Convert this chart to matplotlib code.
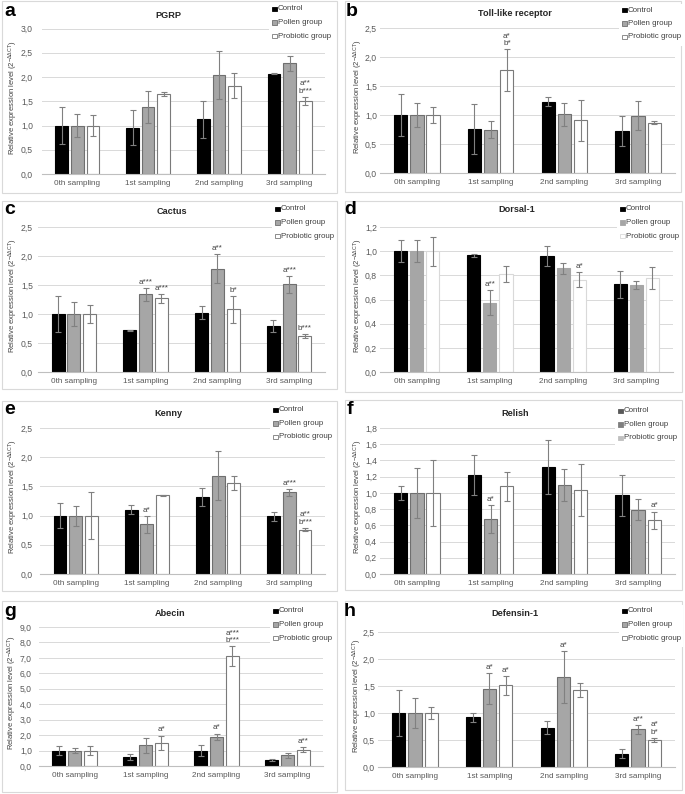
import matplotlib
matplotlib.use("Agg")
import matplotlib.pyplot as plt
from matplotlib.patches import Rectangle
from matplotlib.ticker import FuncFormatter, MultipleLocator
import numpy as np

# ---------------- data ----------------
categories = ["0th sampling", "1st sampling", "2nd sampling", "3rd sampling"]
groups = ["Control", "Pollen group", "Probiotic group"]
letters = ["a", "b", "c", "d", "e", "f", "g", "h"]
titles = ["PGRP", "Toll-like receptor", "Cactus", "Dorsal-1",
          "Kenny", "Relish", "Abecin", "Defensin-1"]

pgrp_control = [1.00, 0.95, 1.13, 2.07]
pgrp_control_sd = [0.39, 0.36, 0.38, 0.01]
pgrp_pollen = [1.00, 1.39, 2.04, 2.28]
pgrp_pollen_sd = [0.24, 0.33, 0.50, 0.15]
pgrp_probiotic = [1.00, 1.65, 1.82, 1.51]
pgrp_probiotic_sd = [0.22, 0.04, 0.26, 0.08]
pgrp_marks = [(3, 2, "a**\nb***")]

toll_control = [1.00, 0.76, 1.23, 0.73]
toll_control_sd = [0.37, 0.43, 0.08, 0.26]
toll_pollen = [1.00, 0.75, 1.01, 0.99]
toll_pollen_sd = [0.20, 0.15, 0.20, 0.25]
toll_probiotic = [1.00, 1.77, 0.91, 0.87]
toll_probiotic_sd = [0.13, 0.36, 0.35, 0.02]
toll_marks = [(1, 2, "a*\nb*")]

cactus_control = [1.00, 0.72, 1.02, 0.79]
cactus_control_sd = [0.31, 0.01, 0.11, 0.10]
cactus_pollen = [1.00, 1.34, 1.78, 1.51]
cactus_pollen_sd = [0.20, 0.11, 0.25, 0.15]
cactus_probiotic = [1.00, 1.27, 1.08, 0.62]
cactus_probiotic_sd = [0.16, 0.08, 0.23, 0.04]
cactus_marks = [(1, 1, "a***"), (1, 2, "a***"), (2, 1, "a**"),
                (2, 2, "b*"), (3, 1, "a***"), (3, 2, "b***")]

dorsal_control = [1.00, 0.965, 0.96, 0.725]
dorsal_control_sd = [0.09, 0.015, 0.08, 0.115]
dorsal_pollen = [1.00, 0.575, 0.86, 0.72]
dorsal_pollen_sd = [0.09, 0.10, 0.045, 0.035]
dorsal_probiotic = [1.00, 0.81, 0.765, 0.78]
dorsal_probiotic_sd = [0.12, 0.065, 0.06, 0.09]
dorsal_marks = [(1, 1, "a**"), (2, 2, "a*")]

kenny_control = [1.00, 1.10, 1.32, 0.99]
kenny_control_sd = [0.22, 0.08, 0.15, 0.08]
kenny_pollen = [1.00, 0.85, 1.68, 1.40]
kenny_pollen_sd = [0.17, 0.14, 0.42, 0.06]
kenny_probiotic = [1.00, 1.35, 1.55, 0.76]
kenny_probiotic_sd = [0.40, 0.01, 0.12, 0.03]
kenny_marks = [(1, 1, "a*"), (3, 1, "a***"), (3, 2, "a**\nb***")]

relish_control = [1.00, 1.22, 1.32, 0.97]
relish_control_sd = [0.09, 0.25, 0.33, 0.25]
relish_pollen = [1.00, 0.68, 1.10, 0.79]
relish_pollen_sd = [0.31, 0.17, 0.20, 0.13]
relish_probiotic = [1.00, 1.08, 1.04, 0.66]
relish_probiotic_sd = [0.41, 0.18, 0.32, 0.11]
relish_marks = [(1, 1, "a*"), (3, 2, "a*")]

abecin_control = [1.00, 0.60, 1.00, 0.40]
abecin_control_sd = [0.30, 0.20, 0.37, 0.05]
abecin_pollen = [1.00, 1.33, 1.90, 0.70]
abecin_pollen_sd = [0.15, 0.50, 0.20, 0.15]
abecin_probiotic = [1.00, 1.50, 7.10, 1.05]
abecin_probiotic_sd = [0.30, 0.47, 0.65, 0.15]
abecin_marks = [(1, 2, "a*"), (2, 1, "a*"), (2, 2, "a***\nb***"), (3, 2, "a**")]

defensin_control = [1.00, 0.92, 0.73, 0.25]
defensin_control_sd = [0.42, 0.08, 0.12, 0.09]
defensin_pollen = [1.00, 1.45, 1.67, 0.70]
defensin_pollen_sd = [0.28, 0.29, 0.48, 0.08]
defensin_probiotic = [1.00, 1.51, 1.42, 0.50]
defensin_probiotic_sd = [0.11, 0.18, 0.13, 0.04]
defensin_marks = [(1, 1, "a*"), (1, 2, "a*"), (2, 1, "a*"), (3, 1, "a**"), (3, 2, "a*\nb*")]

panel_means = [
    (pgrp_control, pgrp_pollen, pgrp_probiotic),
    (toll_control, toll_pollen, toll_probiotic),
    (cactus_control, cactus_pollen, cactus_probiotic),
    (dorsal_control, dorsal_pollen, dorsal_probiotic),
    (kenny_control, kenny_pollen, kenny_probiotic),
    (relish_control, relish_pollen, relish_probiotic),
    (abecin_control, abecin_pollen, abecin_probiotic),
    (defensin_control, defensin_pollen, defensin_probiotic),
]
panel_sds = [
    (pgrp_control_sd, pgrp_pollen_sd, pgrp_probiotic_sd),
    (toll_control_sd, toll_pollen_sd, toll_probiotic_sd),
    (cactus_control_sd, cactus_pollen_sd, cactus_probiotic_sd),
    (dorsal_control_sd, dorsal_pollen_sd, dorsal_probiotic_sd),
    (kenny_control_sd, kenny_pollen_sd, kenny_probiotic_sd),
    (relish_control_sd, relish_pollen_sd, relish_probiotic_sd),
    (abecin_control_sd, abecin_pollen_sd, abecin_probiotic_sd),
    (defensin_control_sd, defensin_pollen_sd, defensin_probiotic_sd),
]
panel_marks = [pgrp_marks, toll_marks, cactus_marks, dorsal_marks,
               kenny_marks, relish_marks, abecin_marks, defensin_marks]
y_max = [3.0, 2.5, 2.5, 1.2, 2.5, 1.8, 9.0, 2.5]
y_step = [0.5, 0.5, 0.5, 0.2, 0.5, 0.2, 1.0, 0.5]

# ---------------- layout (pixels) ----------------
W, H = 685, 794
FONT = ['Liberation Sans', 'DejaVu Sans']
plt.rcParams['font.family'] = FONT

fig = plt.figure(figsize=(W / 100, H / 100), dpi=100)
fig.patch.set_facecolor('white')

# axes: left, right, bottom(y of zero), top
axes_px = [(42, 325, 174, 28.5), (380, 675, 173, 28),
           (38, 325, 372, 227), (380, 673, 372, 227),
           (40, 325, 574, 428), (380, 675, 574, 428),
           (39, 323, 766, 627), (378, 675, 767, 632)]
ytick_pad_px = [9, 3, 5, 3, 7, 3, 7, 3]
boxes_px = [(2, 337, 1, 193), (345, 681, 1, 192),
            (2, 337, 201, 389), (345, 682, 201, 392),
            (2, 337, 401, 591), (345, 682, 400, 590),
            (2, 337, 601, 792), (345, 682, 601, 790)]
title_px = [(168, 15), (515, 13), (172, 212), (517, 210),
            (168, 413), (515, 413), (170, 613), (515, 613)]
letter_px = [(10, 12), (352, 12), (10, 210), (350, 210),
             (10, 410), (350, 410), (10, 612), (350, 612)]
legend_px = [(272, 9), (622, 10), (275, 209), (620, 209),
             (273, 410), (618, 411), (273, 611), (622, 611)]
ylabel_x = [13, 358, 13, 358, 13, 358, 12, 357]

default_style = [dict(fc='black', ec='black'),
                 dict(fc='#a6a6a6', ec='#6f6f6f'),
                 dict(fc='white', ec='#7a7a7a')]
dorsal_style = [dict(fc='black', ec='black'),
                dict(fc='#a6a6a6', ec='#a6a6a6'),
                dict(fc='white', ec='#d9d9d9')]
relish_legend = [dict(fc='#595959', ec='#595959'),
                 dict(fc='#7f7f7f', ec='#7f7f7f'),
                 dict(fc='#bfbfbf', ec='#bfbfbf')]

fmt = FuncFormatter(lambda v, p: f"{v:.1f}".replace('.', ','))
offs = [-0.22, 0.0, 0.22]
width = 0.18
x = np.arange(len(categories))

for i in range(8):
    l, r, b, t = axes_px[i]
    ax = fig.add_axes([l / W, 1 - b / H, (r - l) / W, (b - t) / H])
    styles = dorsal_style if i == 3 else default_style
    for j in range(3):
        ax.bar(x + offs[j], panel_means[i][j], width, yerr=panel_sds[i][j],
               color=styles[j]['fc'], edgecolor=styles[j]['ec'], linewidth=0.8,
               error_kw=dict(ecolor='#808080', elinewidth=0.8, capsize=2,
                             capthick=0.8), zorder=3)
    for (c, s, lab) in panel_marks[i]:
        top = panel_means[i][s][c] + panel_sds[i][s][c]
        ax.annotate(lab, (x[c] + offs[s], top), xytext=(0, 1.5),
                    textcoords='offset points', ha='center', va='bottom',
                    fontsize=5.8, color='#404040', linespacing=1.1, zorder=5)
    ax.set_xlim(-0.5, 3.5)
    ax.set_ylim(0, y_max[i])
    ax.yaxis.set_major_locator(MultipleLocator(y_step[i]))
    ax.yaxis.set_major_formatter(fmt)
    ax.set_xticks(x)
    ax.set_xticklabels(categories)
    ax.grid(axis='y', color='#d9d9d9', linewidth=0.7, zorder=0)
    ax.set_axisbelow(True)
    for sp in ['left', 'top', 'right']:
        ax.spines[sp].set_visible(False)
    ax.spines['bottom'].set_color('#bfbfbf')
    ax.spines['bottom'].set_linewidth(0.8)
    ax.spines['bottom'].set_zorder(4)
    ax.tick_params(axis='both', length=0, colors='#595959')
    ax.tick_params(axis='y', labelsize=6.2, pad=ytick_pad_px[i] * 0.72)
    ax.tick_params(axis='x', labelsize=5.9, pad=4)
    ax.patch.set_alpha(0)

    # panel frame
    bl, br, bt, bb = boxes_px[i]
    fig.patches.append(Rectangle((bl / W, 1 - bb / H), (br - bl) / W, (bb - bt) / H,
                                 transform=fig.transFigure, fill=False,
                                 edgecolor='#d9d9d9', linewidth=0.8, zorder=0))
    # title and letter
    tx, ty = title_px[i]
    fig.text(tx / W, 1 - ty / H, titles[i], ha='center', va='center',
             fontsize=6.6, fontweight='bold', color='#262626')
    lx, ly = letter_px[i]
    fig.text(lx / W, 1 - ly / H, letters[i], ha='center', va='center',
             fontsize=14, fontweight='bold', color='black')
    # y label
    fig.text(ylabel_x[i] / W, 1 - ((b + t) / 2 - 4) / H,
             'Relative expression level (2$\\mathregular{^{-ΔΔCT}}$)',
             rotation=90, ha='center', va='center', fontsize=5.5, color='#404040')
    # legend (white background, drawn manually)
    mx, my = legend_px[i]
    fig.patches.append(Rectangle(((mx - 3) / W, 1 - (my + 36) / H), 64 / W, 42 / H,
                                 transform=fig.transFigure, facecolor='white',
                                 edgecolor='none', zorder=2))
    lstyles = relish_legend if i == 5 else styles
    for k in range(3):
        yy = my + k * 13.5
        sq = 4.5
        fig.patches.append(Rectangle((mx / W, 1 - (yy + sq / 2) / H), sq / W, sq / H,
                                     transform=fig.transFigure,
                                     facecolor=lstyles[k]['fc'],
                                     edgecolor=lstyles[k]['ec'], linewidth=0.6,
                                     zorder=3))
        fig.text((mx + 6) / W, 1 - yy / H, groups[k], ha='left', va='center',
                 fontsize=5.7, color='#404040', zorder=4)

fig.savefig('out.png', dpi=100, facecolor='white')
